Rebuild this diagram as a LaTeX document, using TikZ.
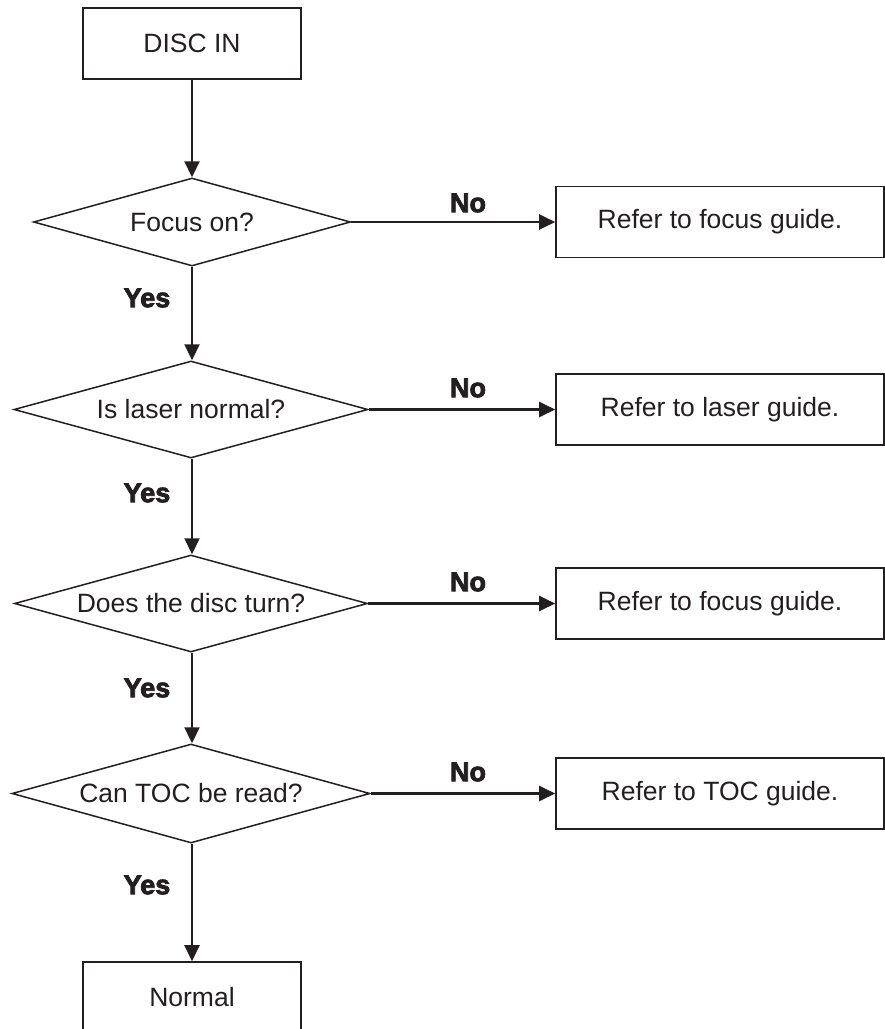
\documentclass[tikz,border=0pt]{standalone}
\usepackage{fontspec}
\setmainfont{Liberation Sans}
\newfontfamily\heavyfont[FakeBold=3]{Liberation Sans Bold}
\usetikzlibrary{shapes.geometric,arrows.meta}
\definecolor{ink}{RGB}{35,31,32}
\begin{document}
\begin{tikzpicture}[x=1pt,y=-1pt,
  every node/.style={text=ink, font=\fontsize{26.5}{31}\selectfont},
  box/.style={draw=ink, line width=1.6pt, minimum width=218pt, minimum height=71pt, inner sep=0pt},
  side/.style={box, minimum width=328pt},
  dia/.style={draw=ink, diamond, aspect=3.6, inner sep=0pt, line width=1.5pt},
  arr/.style={draw=ink, line width=2.2pt, -{Triangle[length=16pt,width=15pt]}},
  lab/.style={font=\fontsize{27}{31}\selectfont\heavyfont},
]
\useasboundingbox (0,0) rectangle (885,1029);

\node[box] (discin) at (192,43.5) {DISC IN};

\node[dia, minimum width=317pt, minimum height=88pt] (d1) at (192,222) {Focus on?};
\node[dia, minimum width=354pt, minimum height=97pt] (d2) at (191,409.5) {Is laser normal?};
\node[dia, minimum width=353pt, minimum height=97pt] (d3) at (191,603.5) {Does the disc turn?};
\node[dia, minimum width=358pt, minimum height=99pt] (d4) at (191,793.5) {Can TOC be read?};

\node[side] (r1) at (720,222) {Refer to focus guide.};
\node[side] (r2) at (720,409.5) {Refer to laser guide.};
\node[side] (r3) at (720,603.5) {Refer to focus guide.};
\node[side] (r4) at (720,793.5) {Refer to TOC guide.};

\node[box] (normal) at (192,997.5) {Normal};

\draw[arr] (discin.south) -- (d1.north);
\draw[arr] (d1.south) -- (d2.north -| d1.south);
\draw[arr] (d2.south -| d1.south) -- (d3.north -| d1.south);
\draw[arr] (d3.south -| d1.south) -- (d4.north -| d1.south);
\draw[arr] (d4.south -| d1.south) -- (normal.north);

\draw[arr] (d1.east) -- (r1.west |- d1.east);
\draw[arr] (d2.east) -- (r2.west |- d2.east);
\draw[arr] (d3.east) -- (r3.west |- d3.east);
\draw[arr] (d4.east) -- (r4.west |- d4.east);

\node[lab] (y1) at (147,298) {Yes};
\node[lab] (y2) at (147,493) {Yes};
\node[lab] (y3) at (147,688) {Yes};
\node[lab] (y4) at (147,885) {Yes};

\node[lab] (n1) at (468,203) {No};
\node[lab] (n2) at (468,388) {No};
\node[lab] (n3) at (468,582) {No};
\node[lab] (n4) at (468,772) {No};
\end{tikzpicture}
\end{document}
